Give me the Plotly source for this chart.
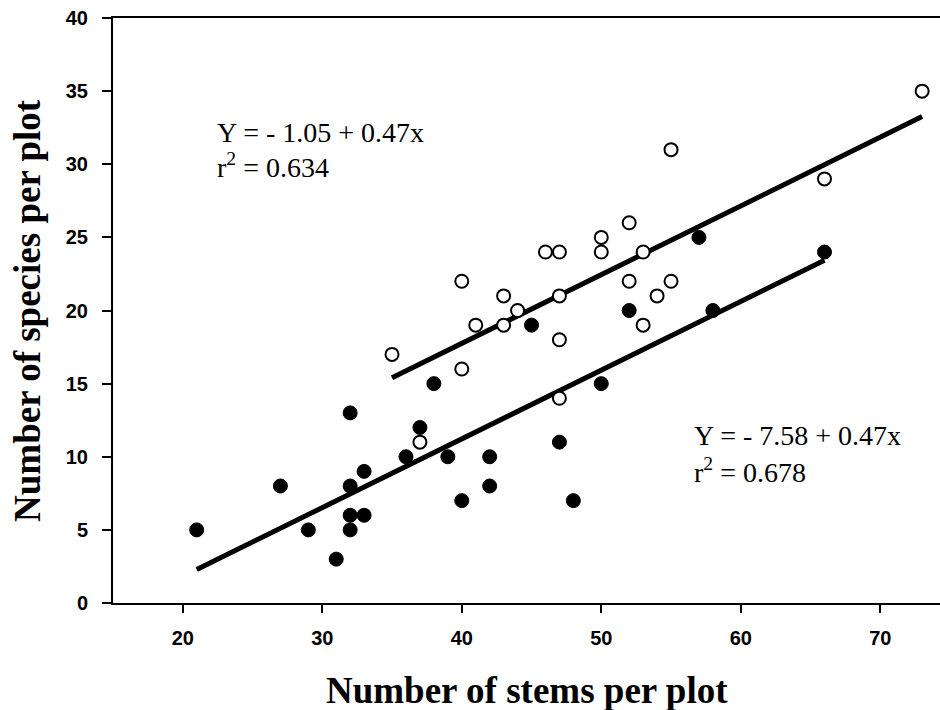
import plotly.graph_objects as go

# Open circles (upper group)
open_x = [35, 37, 40, 40, 41, 43, 43, 44, 46, 47, 47, 47, 47, 50, 50, 52, 52, 53, 53, 54, 55, 55, 66, 73]
open_y = [17, 11, 22, 16, 19, 21, 19, 20, 24, 24, 21, 18, 14, 25, 24, 26, 22, 24, 19, 21, 22, 31, 29, 35]

# Filled circles (lower group)
filled_x = [21, 27, 29, 31, 32, 32, 32, 32, 33, 33, 36, 37, 38, 39, 40, 42, 42, 45, 47, 48, 50, 52, 57, 58, 66]
filled_y = [5, 8, 5, 3, 13, 8, 6, 5, 9, 6, 10, 12, 15, 10, 7, 10, 8, 19, 11, 7, 15, 20, 25, 20, 24]

# Regression lines
open_fit = {"a": -1.05, "b": 0.47, "x": [35, 73]}
filled_fit = {"a": -7.58, "b": 0.47, "x": [21, 66]}

x_ticks = [20, 30, 40, 50, 60, 70]
y_ticks = [0, 5, 10, 15, 20, 25, 30, 35, 40]

fig = go.Figure()

for fit in (open_fit, filled_fit):
    fx = fit["x"]
    fy = [fit["a"] + fit["b"] * v for v in fx]
    fig.add_trace(go.Scatter(x=fx, y=fy, mode="lines",
                             line=dict(color="black", width=5),
                             showlegend=False, hoverinfo="skip"))

fig.add_trace(go.Scatter(x=filled_x, y=filled_y, mode="markers",
                         marker=dict(size=14, color="black",
                                     line=dict(color="black", width=1)),
                         showlegend=False))
fig.add_trace(go.Scatter(x=open_x, y=open_y, mode="markers",
                         marker=dict(size=13, color="white",
                                     line=dict(color="black", width=2)),
                         showlegend=False))

serif = "Liberation Serif, Times New Roman, serif"
ann_font = dict(family=serif, size=28, color="black")

annotations = [
    dict(x=22.3, y=32.18, xref="x", yref="y", text="Y = - 1.05 + 0.47x",
         xanchor="left", yanchor="middle", showarrow=False, font=ann_font),
    dict(x=22.3, y=29.9, xref="x", yref="y", text="r<sup>2</sup> = 0.634",
         xanchor="left", yanchor="middle", showarrow=False, font=ann_font),
    dict(x=56.49, y=11.44, xref="x", yref="y", text="Y = - 7.58 + 0.47x",
         xanchor="left", yanchor="middle", showarrow=False, font=ann_font),
    dict(x=56.49, y=9.04, xref="x", yref="y", text="r<sup>2</sup> = 0.678",
         xanchor="left", yanchor="middle", showarrow=False, font=ann_font),
    dict(x=0.5, y=-0.1496, xref="paper", yref="paper",
         text="<b>Number of stems per plot</b>",
         xanchor="center", yanchor="middle", showarrow=False,
         font=dict(family=serif, size=37, color="black")),
    dict(x=-0.1034, y=0.5, xref="paper", yref="paper",
         text="<b>Number of species per plot</b>", textangle=-90,
         xanchor="center", yanchor="middle", showarrow=False,
         font=dict(family=serif, size=37, color="black")),
]

tick_font = dict(family="Liberation Sans, Arial, sans-serif", size=20,
                 color="black", weight="bold")

fig.update_layout(
    width=940, height=710,
    margin=dict(l=113, r=0, t=18, b=107),
    paper_bgcolor="white", plot_bgcolor="white",
    showlegend=False,
    annotations=annotations,
    xaxis=dict(range=[15, 74.28], tickvals=x_ticks, ticktext=[str(v) for v in x_ticks],
               showgrid=False, zeroline=False, showline=True, linecolor="black",
               linewidth=2, mirror=True, ticks="outside", ticklen=8, tickwidth=2,
               tickcolor="black", tickfont=tick_font, ticklabelstandoff=8),
    yaxis=dict(range=[0, 40], tickvals=y_ticks, ticktext=[str(v) for v in y_ticks],
               showgrid=False, zeroline=False, showline=True, linecolor="black",
               linewidth=2, mirror=False, ticks="outside", ticklen=9, tickwidth=2,
               tickcolor="black", tickfont=tick_font, ticklabelstandoff=10),
)

fig.write_html("out.html")
